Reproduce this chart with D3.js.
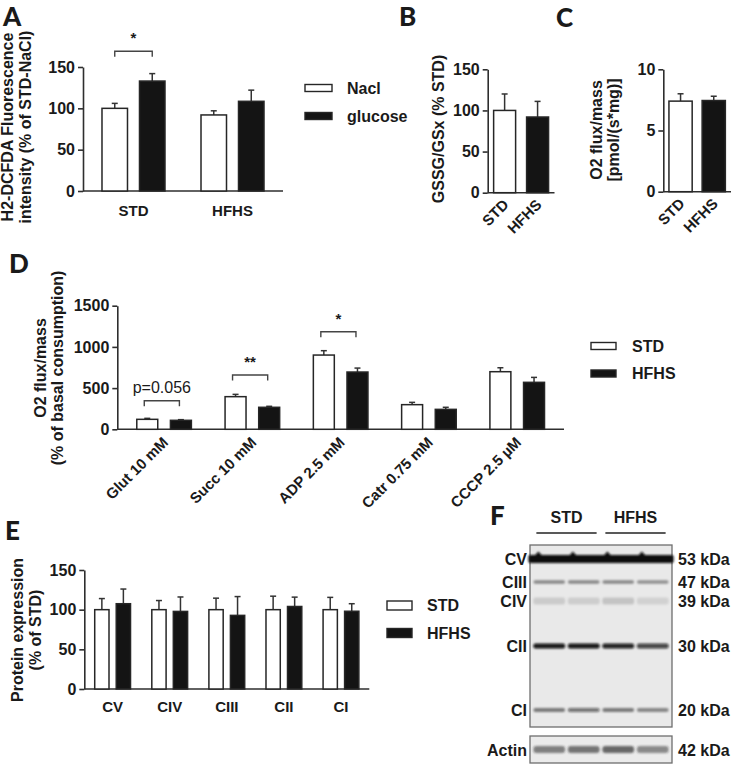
<!DOCTYPE html>
<html><head><meta charset="utf-8">
<script src="https://cdn.jsdelivr.net/npm/d3@7"></script>
<style>
body{margin:0;background:#fff}
svg{display:block}
text{font-family:"Liberation Sans",Arial,Helvetica,sans-serif;font-weight:bold;fill:#1a1a1a}
.plabel{font-family:Lato,"Open Sans",sans-serif;font-weight:900}
</style>
</head><body>
<svg id="c" width="731" height="768"></svg>
<script>
// ---------- DATA ----------
// Panel A
const aGroups = ["STD", "HFHS"];
const aSeries = ["Nacl", "glucose"];
const aMeans = [[100, 92], [133, 108.5]];      // per series, per group
const aErrs = [[106, 97], [142, 122]];
const aTicks = [0, 50, 100, 150];
const aSig = { label: "*", group: "STD", level: 169 };
// Panel B
const bCats = ["STD", "HFHS"];
const bMeans = [100, 92];
const bErrs = [120, 111];
const bTicks = [0, 50, 100, 150];
// Panel C
const cCats = ["STD", "HFHS"];
const cMeans = [7.4, 7.45];
const cErrs = [8.0, 7.8];
const cTicks = [0, 5, 10];
// Panel D
const dGroups = ["Glut 10 mM", "Succ 10 mM", "ADP 2.5 mM", "Catr 0.75 mM", "CCCP 2.5 µM"];
const dSeries = ["STD", "HFHS"];
const dStd = [121, 396, 901, 299, 699];
const dStdErr = [133, 424, 954, 327, 747];
const dHfhs = [109, 267, 695, 242, 570];
const dHfhsErr = [117, 279, 743, 267, 630];
const dTicks = [0, 500, 1000, 1500];
const dSigGroups = ["Glut 10 mM", "Succ 10 mM", "ADP 2.5 mM"];
const dSigLabels = ["p=0.056", "**", "*"];
const dSigLevels = [347, 659, 1184];
// Panel E
const eGroups = ["CV", "CIV", "CIII", "CII", "CI"];
const eSeries = ["STD", "HFHS"];
const eStd = [100, 100, 100, 100, 100];
const eStdErr = [114, 111.5, 114.5, 117, 115.5];
const eHfhs = [107.5, 97.8, 92.8, 104, 98];
const eHfhsErr = [126, 116, 116.5, 115.8, 107.5];
const eTicks = [0, 50, 100, 150];
// Panel F (western blot)
const fBands = ["CV", "CIII", "CIV", "CII", "CI"];
const fKda = ["53 kDa", "47 kDa", "39 kDa", "30 kDa", "20 kDa"];
const fLanes = ["STD 1", "STD 2", "HFHS 1", "HFHS 2"];
const fGroups = ["STD", "HFHS"];
const fIntensity = [
  [1, 1, 1, 1],
  [0.42, 0.42, 0.42, 0.38],
  [0.13, 0.12, 0.16, 0.1],
  [0.95, 0.95, 0.9, 0.75],
  [0.48, 0.55, 0.48, 0.42]
];
const fActinLabel = "Actin";
const fActinKda = "42 kDa";
const fActin = [0.55, 0.62, 0.68, 0.5];

// ---------- STYLE ----------
const AX = "#2e2e2e", DARK = "#141414";
const svg = d3.select("#c");

function yAxis(g, y, x, ticks, fs) {
  const a = g.append("g").attr("transform", `translate(${x},0)`)
    .call(d3.axisLeft(y).tickValues(ticks).tickFormat(d3.format("d"))
      .tickSizeInner(5).tickSizeOuter(0).tickPadding(3));
  a.selectAll("path,line").attr("stroke", AX).attr("stroke-width", 1.6);
  a.selectAll("text").attr("font-size", fs).attr("fill", "#1a1a1a")
    .style("font-family", '"Liberation Sans",Arial,sans-serif').style("font-weight", "bold");
  return a;
}
function xLine(g, x0, x1, y0) {
  g.append("line").attr("x1", x0).attr("x2", x1).attr("y1", y0).attr("y2", y0)
    .attr("stroke", AX).attr("stroke-width", 1.6);
}
function bar(g, cx, w, y, v, e, fill) {
  g.append("line").attr("x1", cx).attr("x2", cx).attr("y1", y(v)).attr("y2", y(e))
    .attr("stroke", "#333").attr("stroke-width", 1.5);
  g.append("line").attr("x1", cx - 3).attr("x2", cx + 3).attr("y1", y(e)).attr("y2", y(e))
    .attr("stroke", "#333").attr("stroke-width", 1.5);
  g.append("rect").attr("x", cx - w / 2).attr("width", w)
    .attr("y", y(v)).attr("height", y(0) - y(v))
    .attr("fill", fill).attr("stroke", "#262626").attr("stroke-width", 1.5);
}
function yLabel(g, lines, xs, cy, fs) {
  lines.forEach((t, i) => {
    g.append("text").attr("transform", `translate(${xs[i]},${cy}) rotate(-90)`)
      .attr("text-anchor", "middle").attr("font-size", fs).text(t);
  });
}
function legend(g, x, ys, bw, bh, tx, labels, fills, fs) {
  labels.forEach((l, i) => {
    g.append("rect").attr("x", x).attr("y", ys[i] - bh / 2).attr("width", bw).attr("height", bh)
      .attr("fill", fills[i]).attr("stroke", "#262626").attr("stroke-width", 1.4);
    g.append("text").attr("x", tx).attr("y", ys[i]).attr("dy", "0.36em")
      .attr("font-size", fs).text(l);
  });
}
function bracket(g, xa, xb, yy, label, fs, weight) {
  g.append("path").attr("d", `M${xa},${yy + 5.5}V${yy}H${xb}V${yy + 5.5}`)
    .attr("fill", "none").attr("stroke", "#444").attr("stroke-width", 1.4);
  g.append("text").attr("x", (xa + xb) / 2).attr("y", yy - 8).attr("text-anchor", "middle")
    .attr("font-size", fs).style("font-weight", weight).text(label);
}
function panelLetter(t, x, y) {
  svg.append("text").attr("class", "plabel").attr("x", x).attr("y", y)
    .attr("font-size", 26).text(t);
}

// ---------- PANEL A ----------
{
  const g = svg.append("g");
  const x = d3.scalePoint().domain(aGroups).range([83, 283]).padding(0.51);
  const sub = d3.scaleBand().domain(aSeries).range([-31.5, 31.5]).paddingInner(0.32);
  const y = d3.scaleLinear().domain([0, 150]).range([191, 67]);
  xLine(g, 83, 283, 191);
  yAxis(g, y, 83, aTicks, 16);
  aSeries.forEach((s, si) => aGroups.forEach((grp, gi) => {
    bar(g, x(grp) + sub(s) + sub.bandwidth() / 2, sub.bandwidth(), y, aMeans[si][gi], aErrs[si][gi], si ? DARK : "#fff");
  }));
  aGroups.forEach(grp => g.append("text").attr("x", x(grp)).attr("y", 216)
    .attr("text-anchor", "middle").attr("font-size", 15).text(grp));
  const c0 = x(aSig.group) + sub(aSeries[0]) + sub.bandwidth() / 2;
  const c1 = x(aSig.group) + sub(aSeries[1]) + sub.bandwidth() / 2;
  bracket(g, c0, c1, y(aSig.level), aSig.label, 15, "bold");
  yLabel(g, ["H2-DCFDA Fluorescence", "intensity (% of STD-NaCl)"], [13, 31], 127, 16);
  legend(g, 305, [88, 116], 27, 7, 347, aSeries, ["#fff", DARK], 16);
  panelLetter("A", 3, 26);
}

// ---------- PANEL B ----------
function twoBar(cats, means, errs, ticks, max, x0, x1, y0, yTop, pi, po) {
  const g = svg.append("g");
  const x = d3.scaleBand().domain(cats).range([x0, x1]).paddingInner(pi).paddingOuter(po);
  const y = d3.scaleLinear().domain([0, max]).range([y0, yTop]);
  xLine(g, x0, x1, y0);
  yAxis(g, y, x0, ticks, 16);
  cats.forEach((c, i) => bar(g, x(c) + x.bandwidth() / 2, x.bandwidth(), y, means[i], errs[i], i ? DARK : "#fff"));
  cats.forEach(c => g.append("text")
    .attr("transform", `translate(${x(c) + x.bandwidth() / 2 + 5},${y0 + 13}) rotate(-45)`)
    .attr("text-anchor", "end").attr("font-size", 15).text(c));
  return g;
}
{
  const g = twoBar(bCats, bMeans, bErrs, bTicks, 150, 487.7, 554.5, 192.7, 69.3, 0.333, 0.18);
  yLabel(g, ["GSSG/GSx (% STD)"], [444], 129, 16);
  panelLetter("B", 399, 26);
}
// ---------- PANEL C ----------
{
  const g = twoBar(cCats, cMeans, cErrs, cTicks, 10, 663.3, 731, 191.7, 69.3, 0.3, 0.17);
  yLabel(g, ["O2 flux/mass", "[pmol/(s*mg)]"], [602, 619], 130, 16);
  panelLetter("C", 556, 27);
}

// ---------- PANEL D ----------
{
  const g = svg.append("g");
  const x = d3.scalePoint().domain(dGroups).range([117.3, 564]).padding(0.53);
  const sub = d3.scaleBand().domain(dSeries).range([-27.3, 27.3]).paddingInner(0.377);
  const y = d3.scaleLinear().domain([0, 1500]).range([429.3, 305.7]);
  xLine(g, 117.3, 564, 429.3);
  yAxis(g, y, 117.3, dTicks, 16);
  const vals = [dStd, dHfhs], errs = [dStdErr, dHfhsErr];
  dSeries.forEach((s, si) => dGroups.forEach((grp, gi) => {
    bar(g, x(grp) + sub(s) + sub.bandwidth() / 2, sub.bandwidth(), y, vals[si][gi], errs[si][gi], si ? DARK : "#fff");
  }));
  dGroups.forEach(grp => g.append("text")
    .attr("transform", `translate(${x(grp) + 5},${429.3 + 14}) rotate(-45)`)
    .attr("text-anchor", "end").attr("font-size", 15).text(grp));
  dSigGroups.forEach((grp, i) => {
    const c0 = x(grp) + sub(dSeries[0]) + sub.bandwidth() / 2 - 3;
    const c1 = x(grp) + sub(dSeries[1]) + sub.bandwidth() / 2 - 1.5;
    bracket(g, c0, c1, y(dSigLevels[i]), dSigLabels[i], i ? 15 : 16, i ? "bold" : "normal");
  });
  yLabel(g, ["O2 flux/mass", "(% of basal consumption)"], [46, 63], 368, 16);
  legend(g, 591, [346, 373.5], 25, 7, 632, dSeries, ["#fff", DARK], 16);
  panelLetter("D", 9, 273);
}

// ---------- PANEL E ----------
{
  const g = svg.append("g");
  const x = d3.scalePoint().domain(eGroups).range([84.3, 369.3]).padding(0.496);
  const sub = d3.scaleBand().domain(eSeries).range([-17.9, 17.9]).paddingInner(0.336);
  const y = d3.scaleLinear().domain([0, 150]).range([689, 570]);
  xLine(g, 84.3, 369.3, 689);
  yAxis(g, y, 84.3, eTicks, 16);
  const vals = [eStd, eHfhs], errs = [eStdErr, eHfhsErr];
  eSeries.forEach((s, si) => eGroups.forEach((grp, gi) => {
    bar(g, x(grp) + sub(s) + sub.bandwidth() / 2, sub.bandwidth(), y, vals[si][gi], errs[si][gi], si ? DARK : "#fff");
  }));
  eGroups.forEach(grp => g.append("text").attr("x", x(grp)).attr("y", 712)
    .attr("text-anchor", "middle").attr("font-size", 15).text(grp));
  yLabel(g, ["Protein expression", "(% of STD)"], [23, 41], 630, 16);
  legend(g, 387, [605.5, 633], 25, 9, 427, eSeries, ["#fff", DARK], 16);
  panelLetter("E", 5, 540);
}

// ---------- PANEL F (blot) ----------
{
  const g = svg.append("g");
  const defs = svg.append("defs");
  defs.append("filter").attr("id", "blur").attr("x", "-20%").attr("y", "-100%").attr("width", "140%").attr("height", "300%")
    .append("feGaussianBlur").attr("stdDeviation", "1.3 1.1");
  const lane = d3.scaleBand().domain(fLanes).range([532, 670]).paddingInner(0.08).paddingOuter(0.04);
  const row = d3.scaleOrdinal().domain(fBands).range([559, 582, 601, 646, 710]);
  const thick = d3.scaleOrdinal().domain(fBands).range([8, 3.5, 7, 5, 4]);
  // header
  fGroups.forEach((grp, i) => {
    const l0 = lane(fLanes[i * 2]), l1 = lane(fLanes[i * 2 + 1]) + lane.bandwidth();
    g.append("text").attr("x", (l0 + l1) / 2).attr("y", 523).attr("text-anchor", "middle")
      .attr("font-size", 16).text(grp);
    g.append("line").attr("x1", l0 + 3).attr("x2", l1 - 3).attr("y1", 533).attr("y2", 533)
      .attr("stroke", "#222").attr("stroke-width", 1.6);
  });
  // main membrane
  g.append("rect").attr("x", 530).attr("y", 545).attr("width", 142).attr("height", 182)
    .attr("fill", "#e9e9e9").attr("stroke", "#6e6e6e").attr("stroke-width", 1.3);
  const bands = g.append("g").attr("filter", "url(#blur)");
  fBands.forEach((b, bi) => {
    fLanes.forEach((l, li) => {
      const widen = bi === 0 ? 5 : 0;
      bands.append("rect").attr("x", lane(l) - widen).attr("width", lane.bandwidth() + 2 * widen)
        .attr("y", row(b) - thick(b) / 2).attr("height", thick(b))
        .attr("rx", 2).attr("fill", "#0c0c0c").attr("opacity", fIntensity[bi][li]);
      if (bi === 0) {
        bands.append("path")
          .attr("d", `M${lane(l) + 1},${row(b) - 3}L${lane(l) + 5},${row(b) - 7.5}L${lane(l) + 9},${row(b) - 3}Z`)
          .attr("fill", "#0c0c0c").attr("opacity", fIntensity[bi][li]);
      }
    });
    g.append("text").attr("x", 527).attr("y", row(b)).attr("dy", "0.36em")
      .attr("text-anchor", "end").attr("font-size", 16).text(b);
    g.append("text").attr("x", 678).attr("y", row(b)).attr("dy", "0.36em")
      .attr("font-size", 16).text(fKda[bi]);
  });
  // actin strip
  g.append("rect").attr("x", 530).attr("y", 736).attr("width", 142).attr("height", 27)
    .attr("fill", "#ebebeb").attr("stroke", "#6e6e6e").attr("stroke-width", 1.3);
  const ab = g.append("g").attr("filter", "url(#blur)");
  fLanes.forEach((l, li) => {
    ab.append("rect").attr("x", lane(l)).attr("width", lane.bandwidth())
      .attr("y", 746).attr("height", 7).attr("rx", 3)
      .attr("fill", "#2a2a2a").attr("opacity", fActin[li]);
  });
  g.append("text").attr("x", 527).attr("y", 750).attr("dy", "0.36em")
    .attr("text-anchor", "end").attr("font-size", 16).text(fActinLabel);
  g.append("text").attr("x", 678).attr("y", 750).attr("dy", "0.36em")
    .attr("font-size", 16).text(fActinKda);
  panelLetter("F", 490, 525);
}
</script>
</body></html>
